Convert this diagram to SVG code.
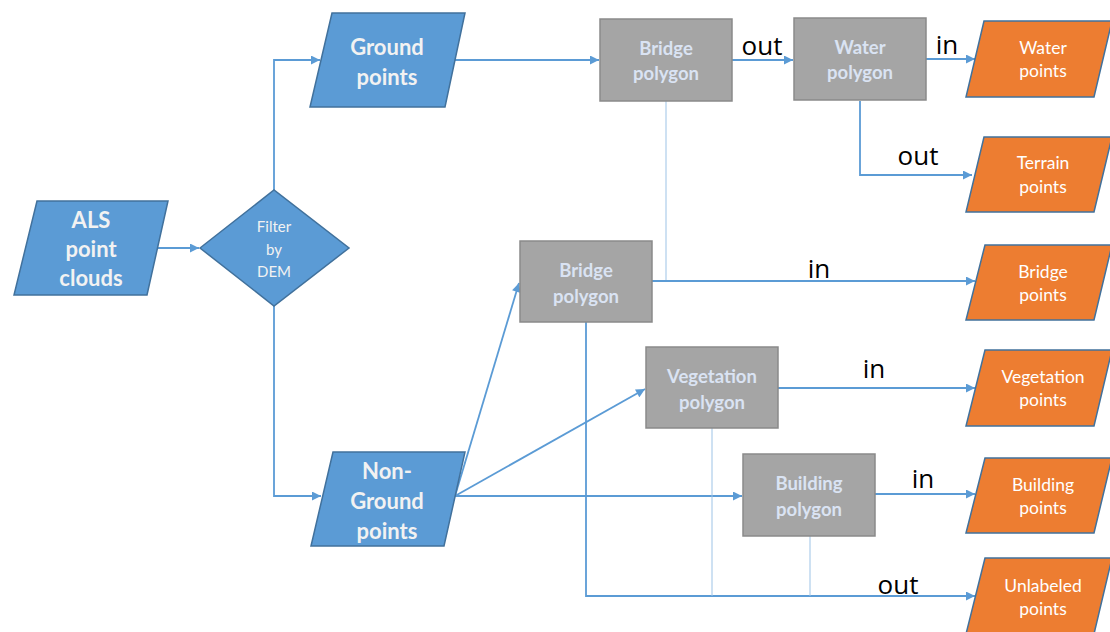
<svg xmlns="http://www.w3.org/2000/svg" width="1110" height="632" viewBox="0 0 1110 632">
<defs>
<marker id="arr" viewBox="0 0 10 10" refX="10" refY="5" markerWidth="10" markerHeight="9" markerUnits="userSpaceOnUse" orient="auto">
<path d="M0,0 L10,5 L0,10 z" fill="#5b9bd5"/>
</marker>
</defs>
<style>
.blue{fill:#5b9bd5;stroke:#41719c;stroke-width:1.5}
.orange{fill:#ed7d31;stroke:#41719c;stroke-width:1.5}
.gray{fill:#a5a5a5;stroke:#8a8a8a;stroke-width:1.5}
.c{fill:none;stroke:#5b9bd5;stroke-width:1.8}
.thin{fill:none;stroke:#9dc3e6;stroke-width:1}
text{font-family:Lato,"Open Sans","Liberation Sans",sans-serif;text-anchor:middle;dominant-baseline:central}
.tb{fill:#f2f2f2;font-size:22px;font-weight:bold}
.tg{fill:#dae3f3;font-size:18.5px;font-weight:bold}
.to{fill:#ffffff;font-size:17.5px}
.td{fill:#f2f2f2;font-size:15px}
.lab{fill:#000000;font-size:26px;font-family:"Open Sans",Lato,"Liberation Sans",sans-serif}
</style>
<rect width="1110" height="632" fill="#ffffff"/>
<g id="connectors">
<path class="c" d="M158,248 H199" marker-end="url(#arr)"/>
<path class="c" d="M274,190 V60 H320" marker-end="url(#arr)"/>
<path class="c" d="M274,306 V496 H321" marker-end="url(#arr)"/>
<path class="c" d="M455,60 H599" marker-end="url(#arr)"/>
<path class="c" d="M732,60 H793" marker-end="url(#arr)"/>
<path class="c" d="M926,59 H975" marker-end="url(#arr)"/>
<path class="c" d="M860,101 V175 H972" marker-end="url(#arr)"/>
<path class="thin" d="M666,101 V281"/>
<path class="c" d="M455,496 L519,283" marker-end="url(#arr)"/>
<path class="c" d="M455,496 L645,389" marker-end="url(#arr)"/>
<path class="c" d="M455,496 H742" marker-end="url(#arr)"/>
<path class="c" d="M652,281 H975" marker-end="url(#arr)"/>
<path class="c" d="M778,388 H975" marker-end="url(#arr)"/>
<path class="c" d="M875,494 H975" marker-end="url(#arr)"/>
<path class="c" d="M586,322 V596 H975" marker-end="url(#arr)"/>
<path class="thin" d="M712,428 V596"/>
<path class="thin" d="M810,536 V596"/>
<text class="lab" x="762" y="45">out</text>
<text class="lab" x="947" y="44">in</text>
<text class="lab" x="918" y="155">out</text>
<text class="lab" x="819" y="268">in</text>
<text class="lab" x="874" y="368">in</text>
<text class="lab" x="923" y="478">in</text>
<text class="lab" x="898" y="584">out</text>
</g>
<g id="als">
<polygon class="blue" points="37,201 168,201 147,295 14,295"/>
<text class="tb" x="91" y="219">ALS</text>
<text class="tb" x="91" y="248">point</text>
<text class="tb" x="91" y="277">clouds</text>
</g>
<g id="filter">
<polygon class="blue" points="200,248 274,190 349,248 274,306"/>
<text class="td" x="274" y="226">Filter</text>
<text class="td" x="274" y="249">by</text>
<text class="td" x="274" y="271">DEM</text>
</g>
<g id="ground">
<polygon class="blue" points="332,13 465,13 445,107 310,107"/>
<text class="tb" x="387" y="46">Ground</text>
<text class="tb" x="387" y="76">points</text>
</g>
<g id="nonground">
<polygon class="blue" points="333,452 465,452 444,546 311,546"/>
<text class="tb" x="387" y="470">Non-</text>
<text class="tb" x="387" y="500">Ground</text>
<text class="tb" x="387" y="530">points</text>
</g>
<g id="bridge1">
<rect class="gray" x="600" y="19" width="132" height="82"/>
<text class="tg" x="666" y="48">Bridge</text>
<text class="tg" x="666" y="73">polygon</text>
</g>
<g id="water">
<rect class="gray" x="794" y="18" width="132" height="82"/>
<text class="tg" x="860" y="47">Water</text>
<text class="tg" x="860" y="72">polygon</text>
</g>
<g id="bridge2">
<rect class="gray" x="520" y="241" width="132" height="81"/>
<text class="tg" x="586" y="270">Bridge</text>
<text class="tg" x="586" y="296">polygon</text>
</g>
<g id="vegetation">
<rect class="gray" x="646" y="347" width="132" height="81"/>
<text class="tg" x="712" y="376">Vegetation</text>
<text class="tg" x="712" y="402">polygon</text>
</g>
<g id="building">
<rect class="gray" x="743" y="454" width="132" height="82"/>
<text class="tg" x="809" y="483">Building</text>
<text class="tg" x="809" y="509">polygon</text>
</g>
<g id="waterpts">
<polygon class="orange" points="984,21 1112,21 1094,97 966,97"/>
<text class="to" x="1043" y="47">Water</text>
<text class="to" x="1043" y="70">points</text>
</g>
<g id="terrainpts">
<polygon class="orange" points="984,137 1112,137 1094,212 966,212"/>
<text class="to" x="1043" y="162">Terrain</text>
<text class="to" x="1043" y="186">points</text>
</g>
<g id="bridgepts">
<polygon class="orange" points="985,245 1112,245 1094,320 966,320"/>
<text class="to" x="1043" y="271">Bridge</text>
<text class="to" x="1043" y="294">points</text>
</g>
<g id="vegpts">
<polygon class="orange" points="985,350 1112,350 1094,426 966,426"/>
<text class="to" x="1043" y="376">Vegetation</text>
<text class="to" x="1043" y="399">points</text>
</g>
<g id="bldgpts">
<polygon class="orange" points="985,458 1112,458 1094,533 966,533"/>
<text class="to" x="1043" y="484">Building</text>
<text class="to" x="1043" y="507">points</text>
</g>
<g id="unlabeledpts">
<polygon class="orange" points="985,558 1112,558 1094,634 966,634"/>
<text class="to" x="1043" y="585">Unlabeled</text>
<text class="to" x="1043" y="608">points</text>
</g>
</svg>
